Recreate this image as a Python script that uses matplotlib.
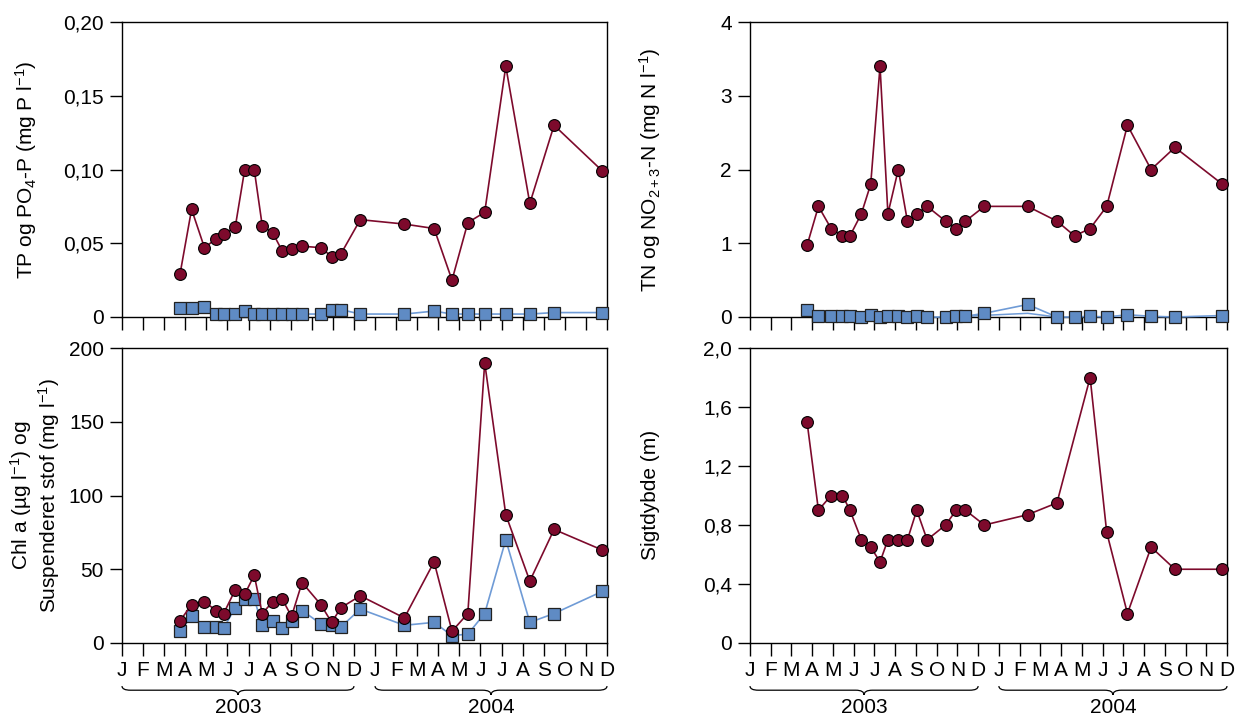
import matplotlib.pyplot as plt
import matplotlib.transforms as mtransforms
from matplotlib.path import Path
from matplotlib.patches import PathPatch

plt.rcParams['font.family'] = ['Liberation Sans', 'DejaVu Sans']
plt.rcParams['mathtext.fontset'] = 'custom'
plt.rcParams['mathtext.rm'] = 'Liberation Sans'
plt.rcParams['mathtext.it'] = 'Liberation Sans:italic'
plt.rcParams['mathtext.default'] = 'regular'

# sampling dates, months counted from 1 Jan 2003 (tick 0 = J 2003)
dates = [2.75, 3.3, 3.91, 4.46, 4.82, 5.37, 5.82, 6.27, 6.65, 7.15, 7.59, 8.04, 8.54,
         9.43, 9.94, 10.39, 11.3, 13.39, 14.8, 15.65, 16.4, 17.2, 18.2, 19.34, 20.49, 22.78]

tp = [0.029, 0.073, 0.047, 0.053, 0.056, 0.061, 0.100, 0.100, 0.062, 0.057, 0.045, 0.046, 0.048,
      0.047, 0.041, 0.043, 0.066, 0.063, 0.060, 0.025, 0.064, 0.071, 0.170, 0.077, 0.130, 0.099]
po4 = [0.006, 0.006, 0.007, 0.002, 0.002, 0.002, 0.004, 0.002, 0.002, 0.002, 0.002, 0.002, 0.002,
       0.002, 0.005, 0.005, 0.002, 0.002, 0.004, 0.002, 0.002, 0.002, 0.002, 0.002, 0.003, 0.003]

tn = [0.97, 1.5, 1.2, 1.1, 1.1, 1.4, 1.8, 3.4, 1.4, 2.0, 1.3, 1.4, 1.5,
      1.3, 1.2, 1.3, 1.5, 1.5, 1.3, 1.1, 1.2, 1.5, 2.6, 2.0, 2.3, 1.8]
no23 = [0.09, 0.01, 0.01, 0.01, 0.01, 0.0, 0.03, 0.0, 0.01, 0.01, 0.0, 0.01, 0.0,
        0.0, 0.01, 0.01, 0.05, 0.17, 0.0, 0.0, 0.01, 0.0, 0.03, 0.01, 0.0, 0.02]
# faint second blue line (no markers) in the N panel
thin_dates = [10.39, 13.39, 14.8]
thin_vals = [0.01, 0.05, 0.0]

chla = [15, 26, 28, 22, 20, 36, 33, 46, 20, 28, 30, 18, 41,
        26, 14, 24, 32, 17, 55, 8, 20, 190, 87, 42, 77, 63]
ss = [8, 18, 11, 11, 10, 24, 30, 30, 12, 15, 10, 15, 22,
      13, 12, 11, 23, 12, 14, 5, 6, 20, 70, 14, 20, 35]

secchi_dates = [d for i, d in enumerate(dates) if i != 19]
secchi = [1.5, 0.9, 1.0, 1.0, 0.9, 0.7, 0.65, 0.55, 0.7, 0.7, 0.7, 0.9, 0.7,
          0.8, 0.9, 0.9, 0.8, 0.87, 0.95, 1.8, 0.75, 0.2, 0.65, 0.5, 0.5]

months = list("JFMAMJJASOND") * 2
years = ["2003", "2004"]

RED = "#7d0a2c"
BLUE_FILL = "#5f8bc4"
BLUE_LINE = "#6f9bd6"
FS = 15

W, H = 1235, 718
fig = plt.figure(figsize=(W / 100, H / 100), dpi=100)


def make_ax(left, right, top, bottom):
    return fig.add_axes([left / W, 1 - bottom / H, (right - left) / W, (bottom - top) / H])


def style(ax, yticks, ylabels, show_x):
    ax.set_xlim(0, 23)
    ax.set_ylim(yticks[0], yticks[-1])
    ax.set_xticks(range(24))
    ax.set_yticks(yticks)
    ax.set_yticklabels(ylabels)
    if show_x:
        ax.set_xticklabels(months)
    else:
        ax.set_xticklabels([])
    ax.tick_params(direction='out', length=9, width=1, labelsize=FS, pad=4)
    for s in ax.spines.values():
        s.set_linewidth(1)


def red_line(ax, x, y):
    ax.plot(x, y, '-', color=RED, lw=1.2, marker='o', ms=8.5, mfc=RED, mec='black',
            mew=0.8, clip_on=False, zorder=4)


def blue_line(ax, x, y):
    ax.plot(x, y, '-', color=BLUE_LINE, lw=1.2, marker='s', ms=8, mfc=BLUE_FILL,
            mec='#222222', mew=0.9, clip_on=False, zorder=3)


def brace(ax, x0, x1, text):
    trans = mtransforms.blended_transform_factory(ax.transData, ax.transAxes)
    yT, yL, yB = -0.146, -0.160, -0.176
    d = 0.4
    xm = (x0 + x1) / 2
    verts = [(x0, yT), (x0, yL), (x0 + d, yL), (xm - d, yL), (xm, yL), (xm, yB),
             (xm, yL), (xm + d, yL), (x1 - d, yL), (x1, yL), (x1, yT)]
    codes = [Path.MOVETO, Path.CURVE3, Path.CURVE3, Path.LINETO, Path.CURVE3, Path.CURVE3,
             Path.CURVE3, Path.CURVE3, Path.LINETO, Path.CURVE3, Path.CURVE3]
    ax.add_patch(PathPatch(Path(verts, codes), transform=trans, fill=False, lw=0.9,
                           clip_on=False))
    ax.text(xm, -0.218, text, transform=trans, ha='center', va='center', fontsize=FS)


# TP / PO4
ax1 = make_ax(122, 607, 22, 317)
blue_line(ax1, dates, po4)
red_line(ax1, dates, tp)
style(ax1, [0, 0.05, 0.10, 0.15, 0.20], ["0", "0,05", "0,10", "0,15", "0,20"], False)
fig.text(26 / W, 1 - 170 / H, r"TP og PO$_4$-P (mg P l$^{-1}$)", rotation=90,
         ha='center', va='center', fontsize=FS)

# TN / NO2+3
ax2 = make_ax(750, 1227, 22, 317)
ax2.plot(thin_dates, thin_vals, '-', color=BLUE_LINE, lw=1.1, zorder=2)
blue_line(ax2, dates, no23)
red_line(ax2, dates, tn)
style(ax2, [0, 1, 2, 3, 4], ["0", "1", "2", "3", "4"], False)
fig.text(650 / W, 1 - 170 / H, r"TN og NO$_{2+3}$-N (mg N l$^{-1}$)", rotation=90,
         ha='center', va='center', fontsize=FS)

# Chl a / suspended matter
ax3 = make_ax(122, 607, 348, 643)
blue_line(ax3, dates, ss)
red_line(ax3, dates, chla)
style(ax3, [0, 50, 100, 150, 200], ["0", "50", "100", "150", "200"], True)
fig.text(35 / W, 1 - 495 / H, "Chl a (µg l$^{-1}$) og\nSuspenderet stof (mg l$^{-1}$)",
         rotation=90, ha='center', va='center', fontsize=FS, linespacing=1.15)
brace(ax3, 0, 11, years[0])
brace(ax3, 12, 23, years[1])

# Secchi depth
ax4 = make_ax(750, 1227, 348, 643)
red_line(ax4, secchi_dates, secchi)
style(ax4, [0, 0.4, 0.8, 1.2, 1.6, 2.0], ["0", "0,4", "0,8", "1,2", "1,6", "2,0"], True)
fig.text(650 / W, 1 - 495 / H, "Sigtdybde (m)", rotation=90, ha='center', va='center',
         fontsize=FS)
brace(ax4, 0, 11, years[0])
brace(ax4, 12, 23, years[1])

fig.savefig("out.png", dpi=100)
